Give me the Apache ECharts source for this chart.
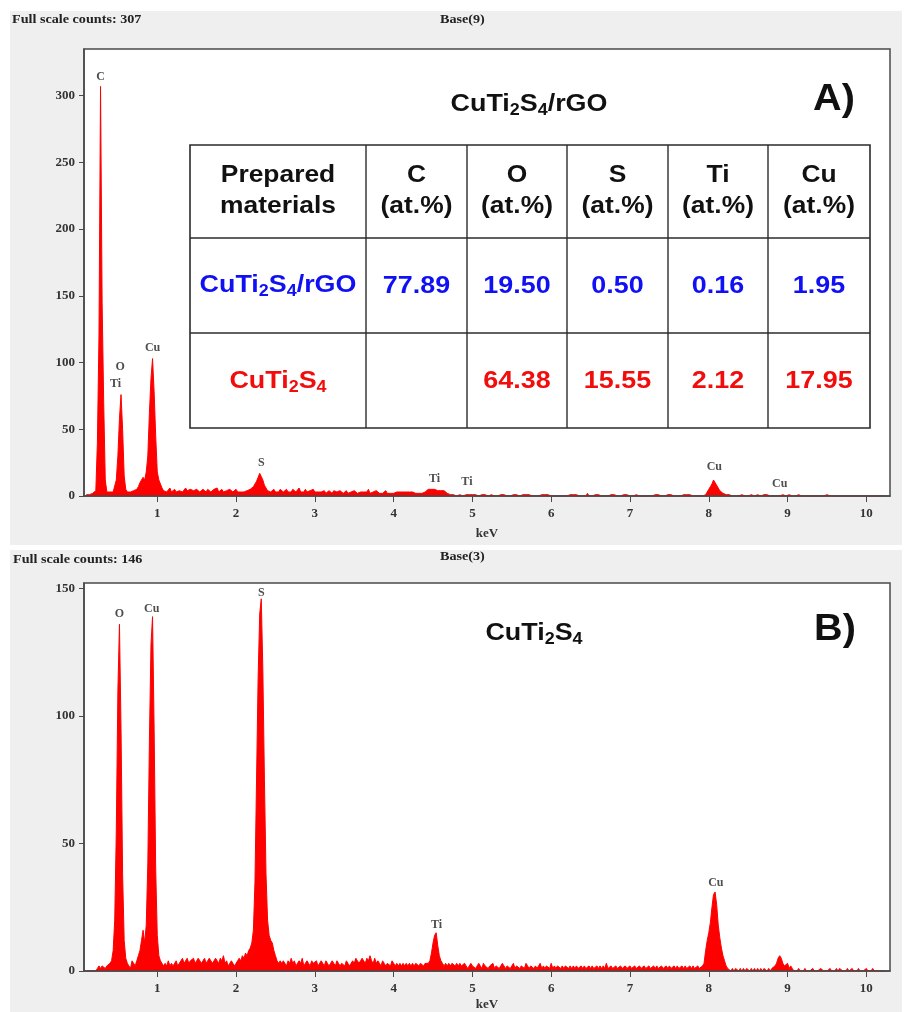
<!DOCTYPE html>
<html>
<head>
<meta charset="utf-8">
<script src="https://cdn.jsdelivr.net/npm/echarts@6/dist/echarts.min.js"></script>
<style>
  html, body { margin: 0; padding: 0; background: #ffffff; }
  #chart { width: 904px; height: 1012px; }
</style>
</head>
<body>
<div id="chart"></div>
<script>
// EDS spectra, counts per 0.02 keV channel; first channel at 0.10 keV
const CHANNEL_START = 0.10;
const CHANNEL_WIDTH = 0.02;

// CuTi2S4/rGO (full scale counts 307)
const countsA = [
  1,2,1,2,2,3,4,40,120,307,145,70,12,3,2,3,2,3,4,12,30,58,76,50,15,
  5,3,2,3,3,4,3,5,7,10,12,14,12,18,30,62,88,103,78,45,18,12,9,6,4,
  5,3,4,6,3,4,5,3,4,4,5,3,4,6,4,3,5,4,4,3,5,4,3,4,5,
  4,3,5,4,3,4,5,4,6,3,4,5,3,4,4,3,5,4,3,4,5,3,2,3,4,
  3,4,4,5,5,6,7,9,11,14,17,16,12,8,6,4,5,3,4,5,3,4,3,5,4,
  3,4,5,3,4,3,5,4,3,4,6,3,4,3,5,3,4,4,3,5,3,4,3,4,3,
  3,4,2,3,4,3,2,4,3,3,2,4,3,2,3,4,2,3,3,2,4,3,2,3,3,
  4,3,2,3,5,2,3,3,2,4,3,2,3,2,3,4,2,3,2,3,2,3,3,2,3,
  2,3,2,3,2,3,2,3,4,2,3,2,3,2,3,3,4,5,4,5,4,5,4,4,5,
  4,3,4,3,2,1,1,0,1,1,0,1,1,1,0,1,1,0,1,1,1,0,1,1,0,
  1,1,0,1,1,0,1,1,1,0,1,0,1,1,0,1,1,0,1,0,1,1,0,1,1,
  0,1,1,0,1,0,1,1,0,1,0,1,0,1,1,0,1,0,1,2,0,1,0,1,0,
  1,0,1,0,1,0,0,1,0,1,0,1,0,0,1,0,1,0,2,0,1,0,0,1,0,
  1,0,0,1,0,1,0,0,1,0,1,0,0,1,0,0,1,0,1,0,0,1,0,0,1,
  0,0,1,0,1,0,0,0,1,0,0,1,0,1,0,0,1,0,0,1,0,1,0,0,1,
  0,1,0,0,1,0,1,0,1,0,0,1,0,1,0,1,0,1,1,3,5,7,9,12,11,
  8,6,4,3,2,1,1,0,1,0,0,1,0,1,0,0,1,0,0,1,0,0,1,0,0,
  0,1,0,0,0,1,0,1,0,0,1,0,0,0,1,0,0,1,0,0,0,1,0,0,0,
  0,0,1,0,0,0,0,1,0,0,0,0,0,1,0,0,0,0,0,0,1,0,0,0,0,
  0,0,0,0,1,0,0,0,0,0,0,0,0,0,1,0,0,0,0,0,0,0,0,0,0,
  0,0,0,0,0,0,0
];

// CuTi2S4 (full scale counts 146)
const countsB = [
  0,0,0,0,0,0,0,1,2,1,2,2,1,2,2,3,4,8,20,55,110,136,95,38,12,
  5,3,2,1,4,3,2,4,6,8,12,16,11,18,42,90,128,139,95,40,14,6,4,3,2,
  3,2,4,2,3,2,3,4,2,3,4,5,3,4,5,3,4,4,5,3,4,5,4,3,4,
  5,3,4,5,4,3,4,5,4,3,5,4,6,3,4,2,3,4,3,2,3,4,5,4,6,
  5,7,6,8,9,11,16,35,75,115,140,146,118,75,38,20,14,12,11,8,6,4,3,4,3,
  4,3,2,4,3,5,3,4,2,3,4,3,5,2,3,4,3,2,4,3,3,4,2,3,4,
  3,2,4,3,2,3,4,3,2,4,3,2,3,3,2,4,3,2,3,4,3,5,4,3,4,
  5,4,3,5,4,6,4,3,5,3,4,3,2,4,3,2,3,3,2,4,3,2,3,2,3,
  2,3,2,3,2,3,2,3,2,3,3,2,3,3,2,3,3,3,4,7,11,14,15,10,6,
  4,3,2,3,2,3,2,3,3,2,3,2,3,2,2,3,2,1,2,3,2,2,1,2,3,
  2,1,3,2,2,1,2,2,3,1,2,2,1,2,3,2,1,2,2,1,2,3,1,2,2,
  1,2,2,1,3,2,1,2,2,1,2,1,2,3,1,2,1,2,2,1,3,1,2,1,2,
  2,1,2,1,2,2,1,2,1,2,1,2,1,1,2,1,2,1,1,2,1,2,1,1,2,
  1,2,1,2,1,3,1,1,2,1,1,2,1,1,2,1,1,2,1,1,2,1,1,2,1,
  1,2,1,1,2,1,1,2,1,1,2,1,2,1,1,2,1,1,2,1,2,1,1,2,1,
  2,1,1,2,1,2,1,1,2,1,2,1,1,2,1,1,2,3,8,12,15,19,25,30,31,
  26,18,13,9,6,4,2,1,1,0,1,0,1,1,0,1,0,1,0,1,1,0,1,0,1,
  0,1,0,1,0,1,1,0,1,0,1,1,2,3,5,6,5,3,2,2,3,1,2,1,0,
  0,0,1,0,0,0,1,0,0,0,0,1,0,0,0,0,1,1,0,0,0,0,1,0,0,
  0,1,0,1,1,0,0,0,1,0,0,1,0,0,0,1,0,0,0,0,1,0,0,0,1,
  0,0,0,0,0,0,0
];

// Axis ticks
const energyTicks = [1, 2, 3, 4, 5, 6, 7, 8, 9, 10];
const countTicksA = [0, 50, 100, 150, 200, 250, 300];
const countTicksB = [0, 50, 100, 150];

// Element line labels: name, energy (keV), counts where the label sits
const peakNamesA  = ['C', 'O', 'Ti', 'Cu', 'S', 'Ti', 'Ti', 'Cu', 'Cu'];
const peakEnergyA = [0.28, 0.53, 0.47, 0.94, 2.32, 4.52, 4.93, 8.07, 8.90];
const peakLevelA  = [314, 97, 84, 111, 25, 12.5, 10.5, 21.5, 8.8];
const peakNamesB  = ['O', 'Cu', 'S', 'Ti', 'Cu'];
const peakEnergyB = [0.52, 0.93, 2.32, 4.545, 8.09];
const peakLevelB  = [140, 142, 148.5, 18, 34.4];

// Composition table
const tableHeaders = ['Prepared\nmaterials', 'C\n(at.%)', 'O\n(at.%)', 'S\n(at.%)', 'Ti\n(at.%)', 'Cu\n(at.%)'];
const materials = ['CuTi2S4/rGO', 'CuTi2S4'];
const compositionComposite = ['77.89', '19.50', '0.50', '0.16', '1.95'];
const compositionBare = ['', '64.38', '15.55', '2.12', '17.95'];

// Header lines of each acquisition
const fullScaleA = 307, fullScaleB = 146;
const baseA = 'Base(9)', baseB = 'Base(3)';

const SANS = '"Liberation Sans", Arial, sans-serif';
const SERIF = '"Liberation Serif", "Times New Roman", serif';
const AXIS_COLOR = '#4a4a4a';
const TEXT_DARK = '#2a2a2a';
const SPEC_RED = '#ff0000';
const BLUE = '#1010f5';
const RED = '#f20d0d';

function channelPairs(counts) {
  return counts.map((c, i) => [+(CHANNEL_START + i * CHANNEL_WIDTH).toFixed(2), c]);
}

function labelPoints(names, energies, levels) {
  return names.map((n, i) => ({ name: n, value: [energies[i], levels[i]] }));
}

// Chemical formula as rich text with subscripted digits
function formulaRich(s) {
  return s.replace(/(\d+)|(\D+)/g, (m, d, t) => d ? '{s|' + d + '}' : '{m|' + t + '}');
}
function formulaStyles(size, color) {
  return {
    m: { fontFamily: SANS, fontWeight: 'bold', fontSize: size, lineHeight: size + 6, fill: color },
    s: { fontFamily: SANS, fontWeight: 'bold', fontSize: Math.round(size * 0.66), lineHeight: 16,
         verticalAlign: 'bottom', fill: color }
  };
}

function formulaText(str, x, y, size, color, sx) {
  return {
    type: 'text', x: x, y: y, z: 100, scaleX: sx, silent: true,
    style: { text: formulaRich(str), rich: formulaStyles(size, color), align: 'center', verticalAlign: 'middle' }
  };
}

function plainText(str, x, y, opts) {
  return {
    type: 'text', x: x, y: y, z: 100, scaleX: opts.scaleX || 1, silent: true,
    style: {
      text: str, fontFamily: opts.family || SANS, fontWeight: 'bold', fontSize: opts.size,
      lineHeight: opts.lineHeight, fill: opts.color || TEXT_DARK,
      align: opts.align || 'center', verticalAlign: 'middle'
    }
  };
}

function xAxisFor(gridIndex, nameGap) {
  return {
    gridIndex: gridIndex, type: 'value', min: 0.07, max: 10.3, z: 5,
    axisLine: { show: true, lineStyle: { color: AXIS_COLOR, width: 1.5 } },
    axisTick: { show: true, customValues: energyTicks, length: 6, lineStyle: { color: AXIS_COLOR, width: 1 } },
    axisLabel: { customValues: energyTicks, margin: 11, fontFamily: SERIF, fontWeight: 'bold', fontSize: 13, color: '#333' },
    splitLine: { show: false },
    name: 'keV', nameLocation: 'middle', nameGap: nameGap,
    nameTextStyle: { fontFamily: SERIF, fontWeight: 'bold', fontSize: 13, color: '#333' }
  };
}

function yAxisFor(gridIndex, max, ticks) {
  return {
    gridIndex: gridIndex, type: 'value', min: 0, max: max,
    axisLine: { show: true, lineStyle: { color: AXIS_COLOR, width: 1.5 } },
    axisTick: { show: true, customValues: ticks, length: 5, lineStyle: { color: AXIS_COLOR, width: 1 } },
    axisLabel: { customValues: ticks, margin: 9, fontFamily: SERIF, fontWeight: 'bold', fontSize: 13, color: '#333' },
    splitLine: { show: false }
  };
}

function spectrumSeries(idx, counts) {
  return {
    type: 'line', xAxisIndex: idx, yAxisIndex: idx, data: channelPairs(counts),
    showSymbol: false, symbol: 'none', sampling: null, z: 2,
    lineStyle: { color: SPEC_RED, width: 1 },
    areaStyle: { color: SPEC_RED, opacity: 1 },
    silent: true
  };
}

function peakLabelSeries(idx, points) {
  return {
    type: 'scatter', xAxisIndex: idx, yAxisIndex: idx, data: points, symbolSize: 1, z: 4,
    itemStyle: { color: 'transparent' }, silent: true,
    label: {
      show: true, position: 'inside', formatter: p => p.name,
      fontFamily: SERIF, fontWeight: 'bold', fontSize: 12, color: '#222'
    }
  };
}

// Composition table drawn over panel A
const colEdges = [190, 366, 467, 567, 668, 768, 870];
const rowEdges = [145, 238, 333, 428];
const tableEls = [];
tableEls.push({ type: 'rect', z: 99, silent: true,
  shape: { x: colEdges[0], y: rowEdges[0], width: colEdges[6] - colEdges[0], height: rowEdges[3] - rowEdges[0] },
  style: { fill: 'transparent', stroke: '#2b2b2b', lineWidth: 1.6 } });
for (let i = 1; i < colEdges.length - 1; i++) {
  tableEls.push({ type: 'line', z: 99, silent: true,
    shape: { x1: colEdges[i], y1: rowEdges[0], x2: colEdges[i], y2: rowEdges[3] },
    style: { stroke: '#2b2b2b', lineWidth: 1.4 } });
}
for (let j = 1; j < rowEdges.length - 1; j++) {
  tableEls.push({ type: 'line', z: 99, silent: true,
    shape: { x1: colEdges[0], y1: rowEdges[j], x2: colEdges[6], y2: rowEdges[j] },
    style: { stroke: '#2b2b2b', lineWidth: 1.4 } });
}
const colCenter = i => (colEdges[i] + colEdges[i + 1]) / 2;
const rowCenter = j => (rowEdges[j] + rowEdges[j + 1]) / 2;
tableHeaders.forEach((h, i) => {
  tableEls.push(plainText(h, colCenter(i), rowCenter(0) - 0.5, { size: 24, lineHeight: 31, scaleX: 1.1, color: '#111' }));
});
tableEls.push(formulaText(materials[0], colCenter(0), rowCenter(1) - 0.5, 24, BLUE, 1.12));
tableEls.push(formulaText(materials[1], colCenter(0), rowCenter(2) + 0.5, 24, RED, 1.12));
compositionComposite.forEach((v, i) => {
  tableEls.push(plainText(v, colCenter(i + 1), rowCenter(1) + 1, { size: 24, scaleX: 1.12, color: BLUE }));
});
compositionBare.forEach((v, i) => {
  if (v) tableEls.push(plainText(v, colCenter(i + 1), rowCenter(2) + 1, { size: 24, scaleX: 1.12, color: RED }));
});

const frame = [
  // white margins around the two grey acquisition panels
  { type: 'rect', silent: true, shape: { x: 0, y: 0, width: 904, height: 11 }, style: { fill: '#ffffff' } },
  { type: 'rect', silent: true, shape: { x: 0, y: 0, width: 10, height: 1012 }, style: { fill: '#ffffff' } },
  { type: 'rect', silent: true, shape: { x: 0, y: 545, width: 904, height: 5 }, style: { fill: '#ffffff' } },
  { type: 'rect', silent: true, shape: { x: 902, y: 0, width: 2, height: 1012 }, style: { fill: '#ffffff' } }
];

const headerEls = [
  plainText('Full scale counts: ' + fullScaleA, 12, 20, { family: SERIF, size: 12, scaleX: 1.18, align: 'left', color: '#222' }),
  plainText(baseA, 440, 20, { family: SERIF, size: 12, scaleX: 1.18, align: 'left', color: '#222' }),
  plainText('Full scale counts: ' + fullScaleB, 13, 560, { family: SERIF, size: 12, scaleX: 1.18, align: 'left', color: '#222' }),
  plainText(baseB, 440, 557, { family: SERIF, size: 12, scaleX: 1.18, align: 'left', color: '#222' }),
  formulaText('CuTi2S4/rGO', 529, 104, 24, '#111', 1.12),
  formulaText('CuTi2S4', 534, 633, 24, '#111', 1.12),
  plainText('A)', 834, 100, { size: 36, scaleX: 1.1, color: '#111' }),
  plainText('B)', 835, 630, { size: 36, scaleX: 1.1, color: '#111' })
];

const chart = echarts.init(document.getElementById('chart'), null, { renderer: 'canvas' });
chart.setOption({
  animation: false,
  backgroundColor: '#efefef',
  grid: [
    { left: 84, top: 49, width: 806, height: 447, show: true, backgroundColor: '#ffffff',
      borderColor: AXIS_COLOR, borderWidth: 1.5 },
    { left: 84, top: 583, width: 806, height: 389.5, show: true, backgroundColor: '#ffffff',
      borderColor: AXIS_COLOR, borderWidth: 1.5 }
  ],
  xAxis: [xAxisFor(0, 31), xAxisFor(1, 27)],
  yAxis: [yAxisFor(0, 335, countTicksA), yAxisFor(1, 152.2, countTicksB)],
  series: [
    spectrumSeries(0, countsA),
    spectrumSeries(1, countsB),
    peakLabelSeries(0, labelPoints(peakNamesA, peakEnergyA, peakLevelA)),
    peakLabelSeries(1, labelPoints(peakNamesB, peakEnergyB, peakLevelB))
  ],
  graphic: { elements: frame.concat(headerEls, tableEls) }
});
</script>
</body>
</html>
